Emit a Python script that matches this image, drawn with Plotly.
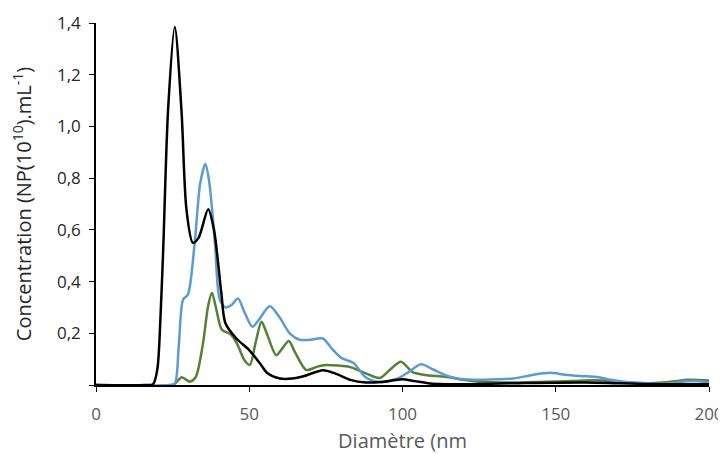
import plotly.graph_objects as go

# Black series
black_x = [0, 16, 18.6, 20, 21, 22, 23.5, 25.7, 27.9, 29.5, 31.6, 33.5, 36.6, 38.5, 40.9, 42.2, 45.8, 50, 53.4, 56, 60, 64, 68, 74, 78, 83, 88, 93, 97, 100, 104, 109, 120, 140, 160, 180, 200]
black_y = [0, 0, 0.003, 0.06, 0.25, 0.55, 1.06, 1.385, 1.06, 0.68, 0.55, 0.57, 0.68, 0.6, 0.355, 0.24, 0.18, 0.135, 0.085, 0.045, 0.025, 0.025, 0.035, 0.057, 0.045, 0.02, 0.01, 0.012, 0.018, 0.022, 0.015, 0.006, 0.003, 0.008, 0.01, 0.004, 0.003]

# Blue series
blue_x = [0, 24, 25.7, 27, 28.4, 30, 32.2, 34, 35.7, 37, 38.8, 40.4, 42.3, 44.3, 46.3, 48.5, 51, 53, 56.7, 60, 63.2, 66.4, 70, 74, 77, 80, 84, 88, 92.5, 98, 102, 106, 110, 114, 118, 123, 130, 136, 142, 148, 153, 158, 164, 168, 173, 180, 187, 194.5, 200]
blue_y = [0, 0, 0.005, 0.15, 0.33, 0.35, 0.55, 0.78, 0.855, 0.78, 0.55, 0.33, 0.3, 0.31, 0.335, 0.28, 0.225, 0.25, 0.305, 0.26, 0.2, 0.175, 0.175, 0.18, 0.14, 0.105, 0.085, 0.03, 0.012, 0.023, 0.05, 0.08, 0.06, 0.038, 0.025, 0.02, 0.022, 0.025, 0.038, 0.047, 0.04, 0.035, 0.03, 0.02, 0.012, 0.007, 0.007, 0.015, 0.01]

# Green series
green_x = [0, 25, 26.3, 27.9, 29.2, 30.6, 32.5, 34.9, 36.5, 37.8, 39.3, 41, 44, 46, 48.5, 50.2, 52, 54, 55.7, 58.8, 60.7, 62.9, 65, 68.6, 72, 75, 79, 82.7, 88, 92.5, 96, 99.5, 103.3, 108, 114, 120, 125, 135, 146.8, 155, 163, 171, 179, 187, 193.5, 200]
green_y = [0, 0, 0.012, 0.03, 0.022, 0.013, 0.03, 0.16, 0.3, 0.357, 0.29, 0.215, 0.195, 0.16, 0.095, 0.078, 0.16, 0.245, 0.2, 0.115, 0.14, 0.17, 0.125, 0.058, 0.07, 0.077, 0.075, 0.07, 0.045, 0.027, 0.06, 0.09, 0.05, 0.038, 0.032, 0.02, 0.013, 0.01, 0.013, 0.015, 0.018, 0.012, 0.007, 0.012, 0.02, 0.017]

y_tickvals = [0, 0.2, 0.4, 0.6, 0.8, 1.0, 1.2, 1.4]
y_ticktext = ["", "0,2", "0,4", "0,6", "0,8", "1,0", "1,2", "1,4"]
x_tickvals = [0, 50, 100, 150, 200]

fig = go.Figure()
fig.add_trace(go.Scatter(x=green_x, y=green_y, mode="lines",
                         line=dict(color="#548235", width=2.5, shape="spline", smoothing=0.8)))
fig.add_trace(go.Scatter(x=blue_x, y=blue_y, mode="lines",
                         line=dict(color="#5B9BD5", width=2.5, shape="spline", smoothing=0.8)))
fig.add_trace(go.Scatter(x=black_x, y=black_y, mode="lines",
                         line=dict(color="#000000", width=2.5, shape="spline", smoothing=0.8)))

# page body has an 8px default margin, so the figure is 8px smaller on each axis
fig.update_layout(
    width=718, height=446,
    margin=dict(l=88, r=17, t=15, b=69),
    plot_bgcolor="white", paper_bgcolor="white",
    showlegend=False,
    font=dict(family="Open Sans", size=17, color="#595959"),
)
fig.update_xaxes(
    range=[0, 200], tickvals=x_tickvals, automargin=False,
    showline=True, linecolor="black", linewidth=1.5,
    ticks="outside", ticklen=5, tickcolor="black", ticklabelstandoff=8,
    showgrid=False, zeroline=False, layer="below traces",
    tickfont=dict(size=17, color="#595959"),
    title=dict(text="Diamètre (nm", font=dict(size=20, color="#595959"), standoff=10),
)
fig.update_yaxes(
    range=[0, 1.4], tickvals=y_tickvals, ticktext=y_ticktext, automargin=False,
    showline=True, linecolor="black", linewidth=1.5,
    ticks="outside", ticklen=5, tickcolor="black", ticklabelstandoff=5,
    showgrid=False, zeroline=False, layer="below traces",
    tickfont=dict(size=17, color="#262626"),
    title=dict(text="Concentration (NP(10<sup>10</sup>).mL<sup>-1</sup>)",
               font=dict(size=20, color="#262626"), standoff=20),
)
fig.update_traces(cliponaxis=False)
fig.write_html("out.html")
